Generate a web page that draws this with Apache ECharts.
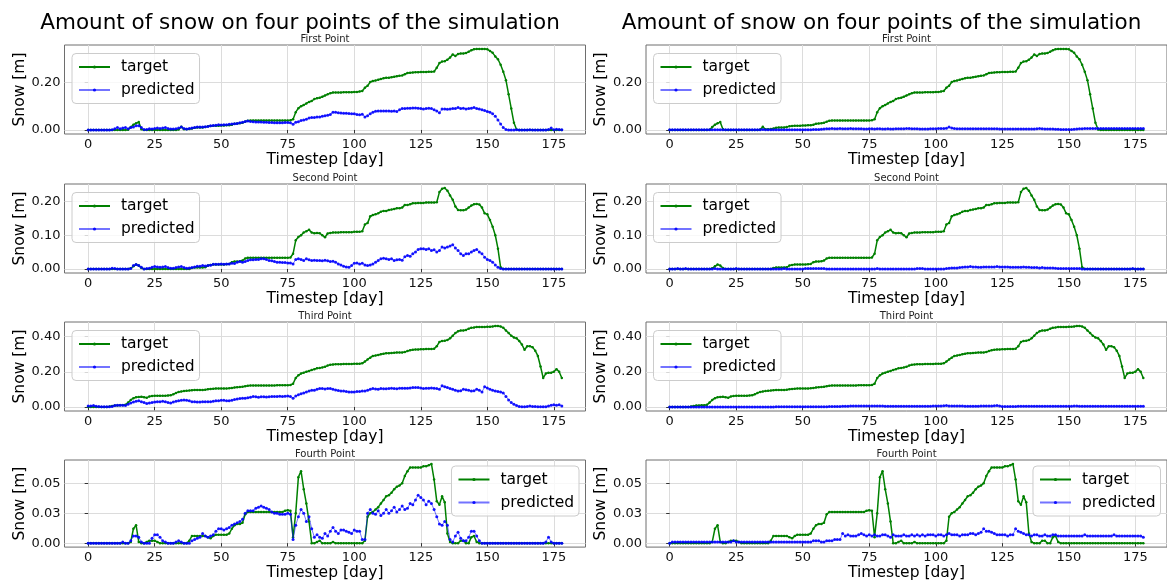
<!DOCTYPE html>
<html>
<head>
<meta charset="utf-8">
<script src="https://cdn.jsdelivr.net/npm/echarts@6/dist/echarts.min.js"></script>
<style>
  html, body { margin: 0; padding: 0; background: #ffffff; }
  #chart { width: 1167px; height: 582px; }
</style>
</head>
<body>
<div id="chart"></div>
<script>
// ---------- data ----------
const figureTitle = 'Amount of snow on four points of the simulation';
const pointNames = ['First Point', 'Second Point', 'Third Point', 'Fourth Point'];
const seriesNames = ['target', 'predicted'];
const xTicks = [0, 25, 50, 75, 100, 125, 150, 175];
const yTicks1 = [0, 0.2];
const yTicks2 = [0, 0.1, 0.2];
const yTicks3 = [0, 0.2, 0.4];
const yTicks4 = [0, 0.025, 0.05];

// observed snow depth [m], one value per day (0..178)
const target1 = [
  0,0,0,0,0,0,0,0,0,0,
  0,0,0,0,0,0.001,0.012,0.022,0.028,0.033,
  0.003,0,0,0,0,0,0,0,0,0,
  0,0,0,0,0.002,0.013,0.003,0.003,0.004,0.006,
  0.009,0.01,0.01,0.01,0.012,0.016,0.017,0.018,0.018,0.018,
  0.019,0.019,0.02,0.02,0.022,0.026,0.027,0.028,0.03,0.035,
  0.039,0.04,0.04,0.04,0.04,0.04,0.04,0.04,0.04,0.04,
  0.04,0.04,0.04,0.04,0.04,0.04,0.041,0.045,0.075,0.092,
  0.1,0.105,0.112,0.118,0.122,0.13,0.134,0.136,0.14,0.145,
  0.15,0.155,0.158,0.158,0.158,0.158,0.159,0.159,0.159,0.159,
  0.16,0.16,0.162,0.164,0.178,0.186,0.202,0.206,0.208,0.212,
  0.215,0.218,0.22,0.22,0.222,0.224,0.226,0.228,0.23,0.235,
  0.24,0.241,0.242,0.243,0.243,0.244,0.244,0.244,0.245,0.245,
  0.246,0.262,0.282,0.288,0.29,0.296,0.305,0.318,0.312,0.32,
  0.322,0.322,0.324,0.33,0.336,0.34,0.341,0.341,0.341,0.341,
  0.34,0.333,0.325,0.31,0.298,0.275,0.245,0.21,0.15,0.09,
  0.03,0.002,0,0,0,0,0,0,0,0,
  0,0,0,0,0,0,0,0,0
];
const target2 = [
  0,0,0,0,0,0,0,0,0,0,
  0,0,0,0,0,0,0.002,0.008,0.013,0.01,
  0.003,0,0,0,0,0,0,0,0,0,
  0,0,0,0,0,0,0,0,0,0.003,
  0.004,0.004,0.004,0.004,0.005,0.01,0.012,0.013,0.013,0.013,
  0.013,0.013,0.014,0.015,0.02,0.022,0.022,0.023,0.025,0.031,
  0.033,0.033,0.033,0.033,0.033,0.033,0.033,0.033,0.033,0.033,
  0.033,0.033,0.033,0.033,0.033,0.033,0.034,0.045,0.085,0.095,
  0.1,0.108,0.112,0.116,0.108,0.106,0.107,0.106,0.1,0.094,
  0.105,0.107,0.108,0.108,0.108,0.109,0.109,0.109,0.109,0.109,
  0.11,0.11,0.11,0.112,0.132,0.136,0.156,0.16,0.162,0.165,
  0.17,0.172,0.172,0.175,0.176,0.178,0.18,0.18,0.182,0.19,
  0.19,0.192,0.195,0.195,0.196,0.196,0.196,0.197,0.197,0.197,
  0.197,0.198,0.228,0.238,0.24,0.232,0.218,0.205,0.185,0.175,
  0.174,0.174,0.176,0.182,0.188,0.192,0.193,0.191,0.182,0.165,
  0.162,0.145,0.125,0.1,0.06,0.005,0,0,0,0,
  0,0,0,0,0,0,0,0,0,0,
  0,0,0,0,0,0,0,0,0
];
const target3 = [
  0,0,0,0,0,0,0,0,0.002,0.005,
  0.008,0.008,0.009,0.01,0.012,0.025,0.04,0.05,0.055,0.057,
  0.058,0.055,0.052,0.06,0.062,0.063,0.063,0.063,0.064,0.064,
  0.065,0.066,0.072,0.08,0.085,0.088,0.09,0.092,0.093,0.095,
  0.097,0.097,0.097,0.097,0.098,0.1,0.102,0.104,0.105,0.105,
  0.105,0.105,0.105,0.106,0.108,0.11,0.112,0.113,0.115,0.118,
  0.12,0.122,0.122,0.122,0.122,0.122,0.122,0.122,0.122,0.122,
  0.122,0.123,0.123,0.124,0.124,0.124,0.125,0.132,0.165,0.18,
  0.19,0.195,0.2,0.205,0.21,0.215,0.22,0.222,0.225,0.228,
  0.235,0.24,0.242,0.243,0.243,0.243,0.244,0.244,0.244,0.244,
  0.245,0.245,0.246,0.248,0.258,0.27,0.28,0.29,0.292,0.295,
  0.3,0.303,0.305,0.306,0.307,0.308,0.309,0.31,0.31,0.312,
  0.318,0.322,0.325,0.326,0.327,0.328,0.328,0.329,0.329,0.33,
  0.331,0.345,0.37,0.375,0.377,0.38,0.39,0.405,0.42,0.43,
  0.435,0.435,0.438,0.445,0.45,0.452,0.455,0.455,0.455,0.455,
  0.456,0.456,0.458,0.46,0.46,0.458,0.45,0.435,0.42,0.405,
  0.395,0.39,0.375,0.355,0.325,0.345,0.345,0.34,0.32,0.29,
  0.23,0.165,0.19,0.195,0.195,0.2,0.215,0.2,0.165
];
const target4 = [
  0,0,0,0,0,0,0,0,0,0,
  0,0,0,0,0,0,0.001,0.012,0.015,0.001,
  0,0,0.001,0.002,0.002,0.002,0.001,0,0,0,
  0,0,0,0,0,0,0,0,0.002,0.006,
  0.006,0.006,0.006,0.006,0.006,0.005,0.004,0.006,0.007,0.007,
  0.007,0.007,0.007,0.008,0.012,0.015,0.016,0.016,0.017,0.024,
  0.026,0.026,0.026,0.026,0.026,0.026,0.026,0.026,0.026,0.026,
  0.026,0.026,0.026,0.026,0.027,0.0275,0.027,0.005,0.025,0.055,
  0.06,0.045,0.033,0.018,0,0,0.001,0.002,0,0,
  0,0,0.001,0,0,0,0,0,0,0,
  0,0,0,0,0.002,0.022,0.025,0.026,0.028,0.03,
  0.033,0.036,0.039,0.04,0.042,0.045,0.047,0.048,0.05,0.056,
  0.06,0.063,0.063,0.063,0.063,0.063,0.064,0.064,0.065,0.066,
  0.053,0.035,0.032,0.039,0.034,0.008,0.001,0,0,0,
  0.002,0.002,0,0,0.005,0.006,0.001,0,0,0,
  0,0,0,0,0,0,0,0,0,0,
  0,0,0,0,0,0,0,0,0,0,
  0,0,0,0,0,0,0,0,0
];

// model A predictions (left column)
const predictedA1 = [
  0,0,0,0,0,0,0,0,0,0.001,
  0.005,0.01,0.005,0.008,0.01,0.005,0.01,0.012,0.018,0.018,
  0.01,0.002,0.002,0.005,0.004,0.006,0.008,0.006,0.008,0.01,
  0.006,0.004,0.004,0.005,0.008,0.012,0.006,0.004,0.006,0.008,
  0.01,0.012,0.012,0.012,0.013,0.015,0.018,0.019,0.02,0.022,
  0.021,0.022,0.022,0.024,0.025,0.026,0.027,0.03,0.032,0.036,
  0.038,0.036,0.035,0.034,0.033,0.033,0.032,0.032,0.031,0.031,
  0.03,0.03,0.03,0.03,0.031,0.031,0.03,0.024,0.032,0.035,
  0.04,0.042,0.045,0.05,0.053,0.052,0.055,0.055,0.058,0.06,
  0.062,0.065,0.075,0.075,0.072,0.071,0.07,0.07,0.069,0.068,
  0.068,0.065,0.064,0.066,0.055,0.06,0.068,0.075,0.079,0.08,
  0.08,0.08,0.08,0.08,0.079,0.08,0.078,0.085,0.09,0.09,
  0.091,0.092,0.093,0.093,0.092,0.09,0.088,0.09,0.092,0.09,
  0.085,0.08,0.072,0.088,0.088,0.087,0.088,0.09,0.09,0.095,
  0.09,0.092,0.088,0.09,0.092,0.095,0.09,0.088,0.085,0.082,
  0.078,0.075,0.068,0.058,0.042,0.025,0.01,0.002,0,0,
  0,0.001,0,0,0,0,0.001,0,0,0,
  0,0,0,0.002,0.008,0.001,0.003,0.002,0.001
];
const predictedA2 = [
  0,0,0,0,0,0,0,0,0,0.002,
  0.001,0,0,0,0,0,0.001,0.01,0.013,0.01,
  0.005,0,0.001,0.002,0.005,0.007,0.006,0.005,0.006,0.007,
  0.004,0.002,0.002,0.004,0.006,0.007,0.004,0.002,0.003,0.004,
  0.006,0.008,0.008,0.01,0.009,0.01,0.011,0.014,0.014,0.014,
  0.015,0.014,0.015,0.015,0.017,0.016,0.02,0.022,0.02,0.022,
  0.025,0.027,0.027,0.028,0.028,0.03,0.03,0.028,0.025,0.024,
  0.022,0.02,0.02,0.019,0.019,0.018,0.018,0.015,0.028,0.03,
  0.028,0.025,0.03,0.027,0.025,0.026,0.025,0.025,0.024,0.026,
  0.024,0.022,0.023,0.02,0.015,0.012,0.008,0.006,0.005,0.01,
  0.017,0.018,0.015,0.017,0.012,0.01,0.012,0.015,0.02,0.025,
  0.03,0.032,0.03,0.028,0.03,0.025,0.027,0.028,0.026,0.036,
  0.04,0.038,0.045,0.05,0.058,0.06,0.06,0.058,0.06,0.055,
  0.057,0.05,0.055,0.065,0.062,0.065,0.068,0.072,0.062,0.055,
  0.045,0.04,0.045,0.045,0.05,0.055,0.058,0.05,0.045,0.035,
  0.028,0.025,0.02,0.012,0.005,0.001,0,0,0,0,
  0,0,0,0,0,0,0,0,0,0,
  0,0,0,0,0,0,0,0,0
];
const predictedA3 = [
  0.005,0.006,0.008,0.004,0.002,0.001,0.001,0.001,0.001,0.003,
  0.008,0.01,0.01,0.01,0.008,0.015,0.022,0.028,0.032,0.035,
  0.03,0.025,0.02,0.022,0.025,0.028,0.03,0.03,0.032,0.03,
  0.025,0.022,0.028,0.032,0.035,0.038,0.04,0.038,0.035,0.03,
  0.029,0.028,0.028,0.029,0.03,0.03,0.03,0.032,0.035,0.035,
  0.038,0.038,0.035,0.035,0.038,0.042,0.045,0.048,0.05,0.05,
  0.052,0.055,0.06,0.058,0.055,0.058,0.058,0.056,0.058,0.06,
  0.06,0.06,0.061,0.06,0.061,0.062,0.06,0.05,0.062,0.07,
  0.075,0.08,0.085,0.09,0.095,0.095,0.1,0.105,0.105,0.102,
  0.105,0.105,0.1,0.097,0.093,0.09,0.09,0.088,0.085,0.085,
  0.085,0.088,0.088,0.09,0.09,0.095,0.1,0.105,0.102,0.1,
  0.105,0.104,0.103,0.105,0.106,0.105,0.104,0.106,0.107,0.106,
  0.107,0.108,0.11,0.11,0.11,0.108,0.105,0.106,0.107,0.108,
  0.106,0.105,0.1,0.12,0.115,0.11,0.105,0.1,0.095,0.09,
  0.092,0.1,0.098,0.095,0.09,0.092,0.1,0.095,0.085,0.115,
  0.108,0.1,0.095,0.09,0.088,0.085,0.08,0.06,0.04,0.025,
  0.015,0.008,0.003,0.001,0.001,0.002,0.006,0.003,0.002,0.001,
  0.001,0.001,0.001,0.005,0.01,0.012,0.01,0.013,0.005
];
const predictedA4 = [
  0,0,0,0,0,0,0,0,0,0,
  0,0,0,0.001,0,0,0.002,0.006,0.006,0.005,
  0.001,0,0,0,0.004,0.007,0.007,0.005,0.002,0.001,
  0,0,0,0.001,0.002,0.001,0,0,0,0.002,
  0.003,0.004,0.005,0.008,0.006,0.005,0.006,0.007,0.01,0.012,
  0.012,0.011,0.012,0.013,0.015,0.016,0.017,0.018,0.02,0.025,
  0.027,0.027,0.027,0.029,0.03,0.031,0.03,0.029,0.028,0.026,
  0.025,0.025,0.024,0.024,0.024,0.025,0.024,0.003,0.015,0.022,
  0.028,0.025,0.018,0.022,0.012,0.005,0.007,0.005,0.004,0.008,
  0.006,0.01,0.013,0.01,0.008,0.011,0.011,0.01,0.009,0.008,
  0.011,0.01,0.01,0.003,0.003,0.025,0.028,0.025,0.024,0.027,
  0.023,0.025,0.028,0.025,0.027,0.03,0.026,0.028,0.031,0.028,
  0.029,0.033,0.032,0.036,0.04,0.038,0.036,0.032,0.035,0.033,
  0.028,0.022,0.016,0.015,0.018,0.015,0.003,0.001,0.006,0.009,
  0.004,0.002,0.002,0.005,0.01,0.01,0.006,0.002,0,0,
  0,0,0,0,0,0,0,0,0,0,
  0,0,0,0,0,0,0,0,0,0,
  0,0,0.001,0.005,0.001,0,0,0,0
];

// model B predictions (right column)
const predictedB1 = [
  0.001,0.001,0.001,0.001,0.001,0.001,0.001,0.001,0.001,0.001,
  0.001,0.001,0.001,0.001,0.001,0.001,0.001,0.001,0.001,0.001,
  0.001,0.001,0.001,0.001,0.001,0.001,0.001,0.001,0.001,0.001,
  0.001,0.001,0.001,0.001,0.001,0.002,0.001,0.001,0.001,0.001,
  0.001,0.001,0.001,0.001,0.001,0.001,0.001,0.001,0.001,0.001,
  0.001,0.001,0.001,0.001,0.002,0.002,0.002,0.003,0.004,0.005,
  0.005,0.006,0.005,0.005,0.006,0.005,0.005,0.005,0.006,0.005,
  0.005,0.005,0.005,0.004,0.004,0.005,0.005,0.004,0.005,0.005,
  0.004,0.004,0.005,0.004,0.004,0.005,0.005,0.005,0.005,0.006,
  0.006,0.005,0.005,0.005,0.004,0.004,0.004,0.004,0.005,0.005,
  0.005,0.006,0.006,0.006,0.007,0.012,0.008,0.006,0.005,0.005,
  0.005,0.005,0.005,0.005,0.005,0.005,0.005,0.005,0.005,0.005,
  0.005,0.005,0.005,0.005,0.004,0.004,0.004,0.004,0.004,0.004,
  0.004,0.004,0.004,0.004,0.004,0.004,0.004,0.004,0.005,0.006,
  0.005,0.004,0.004,0.004,0.004,0.003,0.003,0.002,0.002,0.002,
  0.002,0.002,0.003,0.004,0.005,0.005,0.006,0.006,0.006,0.006,
  0.006,0.006,0.006,0.006,0.006,0.006,0.006,0.006,0.006,0.006,
  0.006,0.006,0.006,0.006,0.006,0.006,0.006,0.006,0.006
];
const predictedB2 = [
  0,0,0,0.001,0,0,0.001,0,0,0,
  0,0,0,0,0,0,0,0.001,0,0,
  0,0,0,0,0,0.001,0,0,0,0,
  0,0,0,0,0,0,0,0,0,0,
  0,0,0,0.001,0,0,0,0,0,0,
  0,0.001,0.001,0.001,0.001,0.001,0.001,0.001,0.001,0,
  0,0,0,0,0,0,0,0,0,0,
  0,0,0,0,0,0,0,0,0.001,0,
  0,0,0,0,0,0,0,0,0,0,
  0,0,0,0.001,0.001,0.001,0,0,0,0,
  0,0,0,0,0.001,0.002,0.003,0.003,0.003,0.004,
  0.005,0.006,0.006,0.007,0.006,0.006,0.005,0.005,0.006,0.006,
  0.006,0.006,0.006,0.007,0.006,0.006,0.006,0.006,0.005,0.005,
  0.005,0.005,0.005,0.006,0.005,0.005,0.004,0.004,0.004,0.003,
  0.004,0.003,0.003,0.003,0.003,0.002,0.001,0.001,0.001,0.001,
  0.001,0.001,0.001,0.001,0.001,0,0,0,0,0,
  0,0,0,0,0,0,0,0,0,0,
  0,0,0,0,0.001,0,0,0,0
];
const predictedB3 = [
  0,0,0,0,0,0,0,0,0,0,
  0,0,0,0,0,0,0,0,0,0,
  0,0,0,0,0,0,0,0,0,0,
  0,0,0,0,0,0,0,0,0,0,
  0.001,0.001,0.001,0.001,0.001,0.001,0.001,0.001,0.001,0.001,
  0.001,0.001,0.001,0.001,0.001,0.001,0.001,0.001,0.001,0.001,
  0.002,0.002,0.003,0.003,0.003,0.004,0.004,0.004,0.005,0.005,
  0.005,0.005,0.005,0.005,0.005,0.005,0.005,0.005,0.005,0.005,
  0.005,0.004,0.004,0.004,0.004,0.004,0.004,0.004,0.004,0.004,
  0.004,0.004,0.004,0.004,0.004,0.004,0.004,0.004,0.004,0.005,
  0.005,0.005,0.005,0.007,0.008,0.006,0.005,0.005,0.005,0.005,
  0.005,0.004,0.004,0.004,0.004,0.004,0.004,0.005,0.005,0.005,
  0.005,0.005,0.007,0.008,0.006,0.003,0.002,0.002,0.003,0.003,
  0.003,0.004,0.004,0.004,0.004,0.004,0.004,0.004,0.004,0.004,
  0.004,0.004,0.004,0.004,0.004,0.004,0.004,0.004,0.004,0.004,
  0.004,0.004,0.005,0.005,0.004,0.004,0.004,0.004,0.004,0.004,
  0.004,0.004,0.004,0.004,0.004,0.004,0.004,0.004,0.004,0.004,
  0.004,0.004,0.004,0.004,0.004,0.004,0.004,0.004,0.004
];
const predictedB4 = [
  0,0.001,0.001,0.001,0.001,0.001,0.001,0.001,0.001,0.001,
  0.001,0.001,0.001,0.001,0.001,0.001,0.001,0.001,0.001,0.001,
  0.001,0.001,0.001,0.001,0.002,0.001,0.001,0.001,0.001,0.001,
  0.001,0.001,0.001,0.001,0.001,0.001,0.001,0.001,0.001,0.001,
  0.001,0.001,0.001,0.001,0.001,0.001,0.001,0.001,0.001,0.001,
  0.001,0.001,0.001,0.001,0.002,0.002,0.002,0.001,0.001,0.002,
  0.002,0.002,0.003,0.003,0.003,0.008,0.006,0.007,0.006,0.006,
  0.006,0.007,0.008,0.007,0.006,0.007,0.006,0.007,0.006,0.006,
  0.007,0.007,0.006,0.005,0.007,0.006,0.006,0.006,0.007,0.006,
  0.006,0.007,0.006,0.007,0.006,0.007,0.006,0.007,0.007,0.007,
  0.006,0.007,0.007,0.006,0.007,0.008,0.007,0.007,0.007,0.006,
  0.007,0.007,0.007,0.008,0.008,0.007,0.008,0.009,0.012,0.01,
  0.01,0.009,0.008,0.007,0.007,0.007,0.007,0.006,0.007,0.007,
  0.012,0.01,0.009,0.008,0.007,0.007,0.006,0.007,0.007,0.006,
  0.006,0.007,0.006,0.006,0.007,0.007,0.006,0.006,0.006,0.006,
  0.006,0.006,0.006,0.006,0.006,0.006,0.007,0.006,0.006,0.006,
  0.006,0.006,0.006,0.006,0.006,0.006,0.006,0.007,0.006,0.006,
  0.006,0.006,0.006,0.006,0.006,0.006,0.006,0.006,0.005
];

// ---------- layout ----------
const FONT = 'DejaVu Sans';
const columnLeft = [64.5, 646];
const columnTitleX = [300, 881.5];
const plotWidth = 521;
const plotTops = [45, 184, 322, 460];
const plotHeight = 89;

const targets = [target1, target2, target3, target4];
const predictions = [
  [predictedA1, predictedA2, predictedA3, predictedA4],
  [predictedB1, predictedB2, predictedB3, predictedB4]
];
const yTickSets = [yTicks1, yTicks2, yTicks3, yTicks4];

// 5% padding around the data range on both axes
function paddedRange(values) {
  let lo = Infinity, hi = -Infinity;
  values.forEach(v => { if (v < lo) lo = v; if (v > hi) hi = v; });
  const pad = (hi - lo) * 0.05;
  return [lo - pad, hi + pad];
}
const toPoints = arr => arr.map((v, i) => [i, v]);

const grids = [], xAxes = [], yAxes = [], series = [], legends = [], graphics = [];

for (let c = 0; c < 2; c++) {
  graphics.push({
    type: 'text',
    x: columnTitleX[c], y: 23,
    style: { text: figureTitle, font: '21.5px "' + FONT + '"', fill: '#000',
             textAlign: 'center', textVerticalAlign: 'middle' }
  });
  for (let p = 0; p < 4; p++) {
    const k = c * 4 + p;
    const t = targets[p];
    const pr = predictions[c][p];
    const left = columnLeft[c];
    const top = plotTops[p];

    grids.push({ left: left, top: top, width: plotWidth, height: plotHeight,
                 show: true, borderColor: '#6e6e6e', borderWidth: 1, backgroundColor: 'transparent' });

    graphics.push({
      type: 'text', x: left + plotWidth / 2, y: top - 0.5,
      style: { text: pointNames[p], font: '10px "' + FONT + '"', fill: '#222',
               textAlign: 'center', textVerticalAlign: 'bottom' }
    });

    const xr = paddedRange(t.map((v, i) => i));
    xAxes.push({
      gridIndex: k, type: 'value', min: xr[0], max: xr[1],
      name: 'Timestep [day]', nameLocation: 'middle', nameGap: 17,
      nameTextStyle: { fontFamily: FONT, fontSize: 15.5, color: '#000' },
      axisLine: { show: false },
      axisTick: { show: true, length: 3.5, customValues: xTicks, lineStyle: { color: '#333' } },
      axisLabel: { customValues: xTicks, margin: 4, fontFamily: FONT, fontSize: 13, color: '#111' },
      splitLine: { show: true, lineStyle: { color: '#dcdcdc', width: 1 } }
    });

    const yr = paddedRange(t.concat(pr));
    yAxes.push({
      gridIndex: k, type: 'value', min: yr[0], max: yr[1],
      name: 'Snow [m]', nameLocation: 'middle', nameGap: 36,
      nameTextStyle: { fontFamily: FONT, fontSize: 15.5, color: '#000' },
      axisLine: { show: false },
      axisTick: { show: true, length: 3.5, customValues: yTickSets[p], lineStyle: { color: '#333' } },
      axisLabel: { customValues: yTickSets[p], margin: 4, fontFamily: FONT, fontSize: 13, color: '#111',
                   formatter: v => v.toFixed(2) },
      splitLine: { show: true, lineStyle: { color: '#dcdcdc', width: 1 } }
    });

    series.push({
      type: 'line', name: seriesNames[0], xAxisIndex: k, yAxisIndex: k,
      data: toPoints(t), symbol: 'circle', symbolSize: 2.5, showAllSymbol: true,
      lineStyle: { color: '#008000', width: 1.5 }, itemStyle: { color: '#008000' },
      emphasis: { disabled: true }, z: 2
    });
    series.push({
      type: 'line', name: seriesNames[1], xAxisIndex: k, yAxisIndex: k,
      data: toPoints(pr), symbol: 'circle', symbolSize: 3, showAllSymbol: true,
      lineStyle: { color: '#0000ff', width: 1, opacity: 0.55 }, itemStyle: { color: '#0000ff', opacity: 0.9 },
      emphasis: { disabled: true }, z: 3
    });

    const legend = {
      data: seriesNames, orient: 'vertical', selectedMode: false,
      itemWidth: 31, itemHeight: 4, itemGap: 6, padding: [5, 5, 5, 6],
      backgroundColor: 'rgba(255,255,255,0.8)', borderColor: '#cccccc', borderWidth: 1, borderRadius: 4,
      textStyle: { fontFamily: FONT, fontSize: 15.5, color: '#000', lineHeight: 17, padding: [0, 0, 0, 6] }
    };
    if (p === 3) {
      legend.right = 1167 - (left + plotWidth) + 6.5;
      legend.top = top + 6;
    } else {
      legend.left = left + 7.5;
      legend.top = top + 8.5;
    }
    legends.push(legend);
  }
}

const chart = echarts.init(document.getElementById('chart'), null, { renderer: 'canvas' });
chart.setOption({
  animation: false,
  backgroundColor: '#ffffff',
  grid: grids,
  xAxis: xAxes,
  yAxis: yAxes,
  legend: legends,
  series: series,
  graphic: graphics
});
</script>
</body>
</html>
